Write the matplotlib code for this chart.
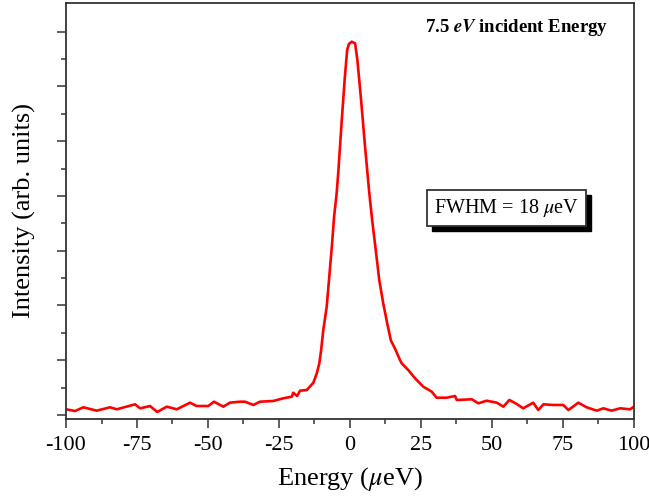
import numpy as np
import matplotlib
matplotlib.use("Agg")
import matplotlib.pyplot as plt
from matplotlib.transforms import offset_copy

plt.rcParams['font.family'] = ['Liberation Serif', 'DejaVu Serif']
plt.rcParams['mathtext.fontset'] = 'stix'
plt.rcParams['axes.unicode_minus'] = False

# spectrum (energy in ueV, intensity in arb. units)
energy = [-100.0, -96.8, -93.9, -89.2, -84.5, -82.1, -75.7, -73.9, -70.4, -67.9,
          -64.5, -61.0, -56.3, -54.0, -49.9, -47.9, -44.6, -42.3, -38.7, -37.0,
          -34.0, -31.7, -27.0, -23.5, -20.5, -20.0, -18.6, -17.6, -15.2, -12.9,
          -11.7, -10.8, -10.2, -9.4, -8.2, -7.3, -6.4, -5.6, -4.7, -4.1,
          -2.9, -1.8, -1.0, -0.4, 0.6, 1.8, 2.6, 3.8, 5.3, 6.8,
          7.8, 9.2, 10.3, 11.7, 13.1, 14.4, 15.8, 17.6, 18.2, 20.5,
          22.9, 25.8, 28.8, 30.5, 34.0, 37.0, 37.6, 42.9, 45.2, 48.1,
          51.7, 54.0, 56.1, 58.7, 61.0, 64.5, 66.3, 68.1, 71.6, 75.1,
          76.9, 80.4, 83.3, 86.9, 89.2, 92.1, 95.1, 98.6, 100.0]
intensity = [0.104, 0.073, 0.141, 0.079, 0.141, 0.104, 0.195, 0.122, 0.164, 0.055,
             0.152, 0.104, 0.225, 0.164, 0.164, 0.243, 0.152, 0.225, 0.243, 0.243,
             0.183, 0.243, 0.256, 0.305, 0.334, 0.407, 0.347, 0.444, 0.457, 0.590,
             0.761, 0.944, 1.170, 1.552, 1.978, 2.526, 3.073, 3.621, 4.049, 4.450,
             5.387, 6.178, 6.665, 6.775, 6.817, 6.788, 6.483, 5.813, 4.900, 4.049,
             3.560, 2.953, 2.465, 2.040, 1.675, 1.360, 1.218, 1.004, 0.944, 0.822,
             0.670, 0.517, 0.425, 0.316, 0.316, 0.347, 0.274, 0.287, 0.214, 0.261,
             0.225, 0.152, 0.274, 0.201, 0.122, 0.225, 0.091, 0.195, 0.183, 0.183,
             0.091, 0.225, 0.141, 0.079, 0.122, 0.079, 0.122, 0.104, 0.152]

fig = plt.figure(figsize=(6.49, 4.97), dpi=100)
ax = fig.add_axes([66 / 649, 78 / 497, 568 / 649, 416 / 497])

ax.plot(energy, intensity, color='#ff0000', lw=1.9)

ax.set_xlim(-100, 100)
ax.set_ylim(-0.073, 7.524)
ax.set_xticks(np.arange(-100, 101, 25))
ax.set_xticks(np.arange(-87.5, 100, 25), minor=True)
ax.set_yticks(np.arange(0, 8, 1))
ax.set_yticks(np.arange(0.5, 7.5, 1), minor=True)
ax.set_yticklabels([])
ax.tick_params(which='major', direction='out', length=6.5, width=1.1, color='#333333', labelsize=16)
ax.tick_params(which='minor', direction='out', length=3.6, width=1.1, color='#333333')
ax.tick_params(axis='x', pad=6)
for s in ax.spines.values():
    s.set_color('#333333')
    s.set_linewidth(1.3)

ax.set_xlabel(r'Energy ($\mu$eV)', fontsize=19, labelpad=7)
ax.set_ylabel('Intensity (arb. units)', fontsize=19)
ax.yaxis.set_label_coords(-0.053, 0.5)

ax.text(0.954, 0.942, r'7.5 $\mathbfit{eV}$ incident Energy', transform=ax.transAxes,
        ha='right', va='center', fontsize=13.5, fontweight='bold')

label = r'FWHM = 18 $\mu$eV'
shadow = offset_copy(ax.transAxes, fig=fig, x=5, y=-5, units='dots')
ax.text(0.7755, 0.508, label, transform=shadow, ha='center', va='center', fontsize=14.5,
        color='none', bbox=dict(boxstyle='square,pad=0.35', fc='black', ec='black'))
ax.text(0.7755, 0.508, label, transform=ax.transAxes, ha='center', va='center', fontsize=14.5,
        bbox=dict(boxstyle='square,pad=0.35', fc='white', ec='#333333', lw=1.3))

fig.savefig('out.png', dpi=100)
